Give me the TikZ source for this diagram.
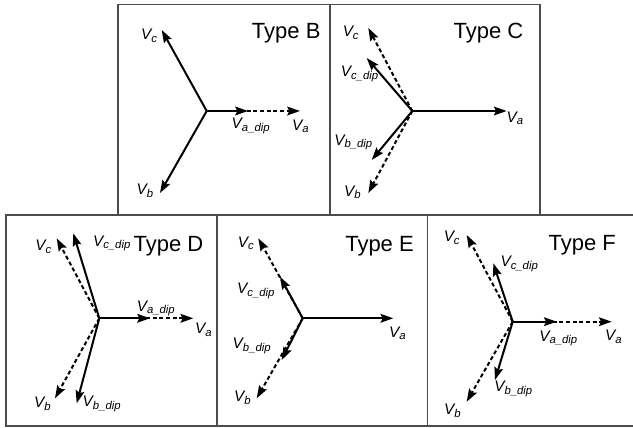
\documentclass[tikz,border=0pt]{standalone}
\usepackage{fontspec}
\setmainfont{Liberation Sans}
\usetikzlibrary{arrows.meta}

% phasor label: italic V with a lowered subscript
\newcommand{\phs}[1]{V\raisebox{-2pt}{\fontsize{8.5}{9}\selectfont #1}}

\begin{document}
\begin{tikzpicture}[x=0.75pt,y=0.75pt,yscale=-1,xscale=1,
  frame/.style={draw=black!70, line width=0.8pt},
  phasor/.style={line width=1.5pt, -{Stealth[length=9.5pt,width=6.5pt,inset=1.5pt]}},
  dipped/.style={phasor, dash pattern={on 3pt off 2pt}},
  vlab/.style={inner sep=0.75pt, font=\fontsize{11.5}{13}\selectfont\itshape},
  typelab/.style={inner sep=0pt, anchor=base west, font=\fontsize{16.5}{19}\selectfont}]
\useasboundingbox (0,0) rectangle (633,428);

%Frames
\draw [frame] (118,4.5) rectangle (330,215);
\draw [frame] (330,4.5) rectangle (540,215);
\draw [frame] (6,215) rectangle (217,426);
\draw [frame] (217,215) rectangle (427.5,426);
\draw [frame] (640,215) -- (427.5,215) -- (427.5,426) -- (640,426);

%Type B
\coordinate (B-o) at (206.7,111);
\coordinate (B-a) at (300,111);
\coordinate (B-adip) at (248,111);
\coordinate (B-b) at (160,193);
\coordinate (B-c) at (161.7,30);
\draw [dipped] (B-o) -- (B-a);
\draw [phasor] (B-o) -- (B-adip);
\draw [phasor] (B-o) -- (B-b);
\draw [phasor] (B-o) -- (B-c);
\node [typelab] (B-type) at (251.7,38.3) {Type B};
\node [vlab] (B-lc) at (149,36) {\phs{c}};
\node [vlab] (B-lb) at (145,191) {\phs{b}};
\node [vlab] (B-ladip) at (250.7,126) {\phs{a\_dip}};
\node [vlab] (B-la) at (300.3,126.3) {\phs{a}};

%Type C
\coordinate (C-o) at (412.3,111);
\coordinate (C-a) at (506.7,111);
\coordinate (C-c) at (368.3,28);
\coordinate (C-cdip) at (366.7,58);
\coordinate (C-b) at (368.3,193);
\coordinate (C-bdip) at (371.7,160);
\draw [dipped] (C-o) -- (C-c);
\draw [dipped] (C-o) -- (C-b);
\draw [phasor] (C-o) -- (C-a);
\draw [phasor] (C-o) -- (C-cdip);
\draw [phasor] (C-o) -- (C-bdip);
\node [typelab] (C-type) at (453.3,38.3) {Type C};
\node [vlab] (C-lc) at (350.7,33) {\phs{c}};
\node [vlab] (C-lcdip) at (359.5,73.8) {\phs{c\_dip}};
\node [vlab] (C-lbdip) at (353.3,142.3) {\phs{b\_dip}};
\node [vlab] (C-lb) at (352.3,192.3) {\phs{b}};
\node [vlab] (C-la) at (515,118.3) {\phs{a}};

%Type D
\coordinate (D-o) at (99.3,318.3);
\coordinate (D-a) at (193.3,318.3);
\coordinate (D-adip) at (150,318.3);
\coordinate (D-c) at (56.7,238.3);
\coordinate (D-cdip) at (73.3,233.3);
\coordinate (D-b) at (55,398.3);
\coordinate (D-bdip) at (76.7,403.3);
\draw [dipped] (D-o) -- (D-a);
\draw [dipped] (D-o) -- (D-c);
\draw [dipped] (D-o) -- (D-b);
\draw [phasor] (D-o) -- (D-adip);
\draw [phasor] (D-o) -- (D-cdip);
\draw [phasor] (D-o) -- (D-bdip);
\node [typelab] (D-type) at (133.3,251.7) {Type D};
\node [vlab] (D-lc) at (43.3,246.7) {\phs{c}};
\node [vlab] (D-lcdip) at (111.7,243.3) {\phs{c\_dip}};
\node [vlab] (D-ladip) at (155.8,308.3) {\phs{a\_dip}};
\node [vlab] (D-la) at (203.3,330) {\phs{a}};
\node [vlab] (D-lb) at (42.5,404) {\phs{b}};
\node [vlab] (D-lbdip) at (101.7,404) {\phs{b\_dip}};

%Type E
\coordinate (E-o) at (302.7,318.3);
\coordinate (E-a) at (393.3,318.3);
\coordinate (E-c) at (258.3,238.3);
\coordinate (E-cdip) at (280,276.7);
\coordinate (E-b) at (256.7,398.3);
\coordinate (E-bdip) at (281.7,360);
\draw [dipped] (E-o) -- (E-c);
\draw [dipped] (E-o) -- (E-b);
\draw [phasor] (E-o) -- (E-a);
\draw [phasor] (E-o) -- (E-cdip);
\draw [phasor] (E-o) -- (E-bdip);
\node [typelab] (E-type) at (345,251.7) {Type E};
\node [vlab] (E-lc) at (245.8,243.3) {\phs{c}};
\node [vlab] (E-lcdip) at (255.8,291) {\phs{c\_dip}};
\node [vlab] (E-lbdip) at (251.7,345.8) {\phs{b\_dip}};
\node [vlab] (E-lb) at (242.5,397.5) {\phs{b}};
\node [vlab] (E-la) at (397.5,333.3) {\phs{a}};

%Type F
\coordinate (F-o) at (512.7,321.7);
\coordinate (F-a) at (611.7,321.7);
\coordinate (F-adip) at (556.7,321.7);
\coordinate (F-c) at (466.7,235);
\coordinate (F-cdip) at (493.3,263.3);
\coordinate (F-b) at (466.7,401.7);
\coordinate (F-bdip) at (495,380);
\draw [dipped] (F-o) -- (F-a);
\draw [dipped] (F-o) -- (F-c);
\draw [dipped] (F-o) -- (F-b);
\draw [phasor] (F-o) -- (F-adip);
\draw [phasor] (F-o) -- (F-cdip);
\draw [phasor] (F-o) -- (F-bdip);
\node [typelab] (F-type) at (548.3,250) {Type F};
\node [vlab] (F-lc) at (451.7,237.5) {\phs{c}};
\node [vlab] (F-lcdip) at (519.2,264.2) {\phs{c\_dip}};
\node [vlab] (F-ladip) at (558.3,338.3) {\phs{a\_dip}};
\node [vlab] (F-la) at (613.3,336.7) {\phs{a}};
\node [vlab] (F-lbdip) at (513.3,389.2) {\phs{b\_dip}};
\node [vlab] (F-lb) at (452.5,410.8) {\phs{b}};
\end{tikzpicture}
\end{document}
